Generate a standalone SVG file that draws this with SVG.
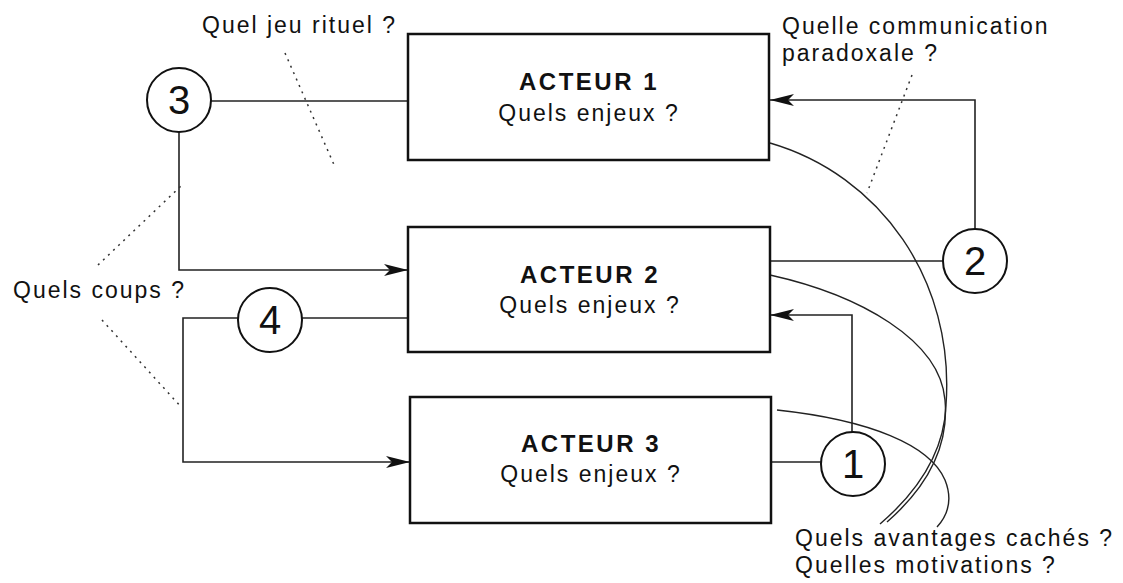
<svg xmlns="http://www.w3.org/2000/svg" width="1123" height="583" viewBox="0 0 1123 583">
<style>
.box{fill:#fff;stroke:#111;stroke-width:2.5}
.circ{fill:#fff;stroke:#111;stroke-width:2}
.ln{fill:none;stroke:#222;stroke-width:1.6}
.cv{fill:none;stroke:#222;stroke-width:1.4}
.dot{fill:none;stroke:#333;stroke-width:1.5;stroke-dasharray:2 5}
.t{font-family:"Liberation Sans",Arial,sans-serif;font-size:23px;letter-spacing:2px;fill:#111}
.b{font-size:24px;font-weight:bold;letter-spacing:2.5px;text-anchor:middle}
.m{text-anchor:middle}
.n{font-family:"Liberation Sans",Arial,sans-serif;font-size:40px;fill:#111;text-anchor:middle}
</style>
<defs>
<marker id="ah" markerUnits="userSpaceOnUse" markerWidth="24" markerHeight="12" refX="24" refY="6" orient="auto">
<path d="M0,0 L24,6 L0,12 L6,6 z" fill="#111"/>
</marker>
</defs>
<rect width="1123" height="583" fill="#fff"/>
<g id="connectors">
<path class="ln" d="M211,101 H408"/>
<path class="ln" d="M179,132 V270 H408" marker-end="url(#ah)"/>
<path class="ln" d="M943,261 H770"/>
<path class="ln" d="M975,229 V100 H770" marker-end="url(#ah)"/>
<path class="ln" d="M821,462 H770"/>
<path class="ln" d="M852,432 V315 H770" marker-end="url(#ah)"/>
<path class="ln" d="M302,318 H408"/>
<path class="ln" d="M238,318 H183 V462 H410" marker-end="url(#ah)"/>
<path class="cv" d="M770,143 C880,175 955,280 946,405 C944,460 908,500 880,524"/>
<path class="cv" d="M770,275 C860,295 940,340 945,400 C950,455 918,495 887,522"/>
<path class="cv" d="M777,410 C870,420 930,445 945,480 C953,500 948,515 937,527"/>
<path class="dot" d="M285,53 L335,167"/>
<path class="dot" d="M912,75 L867,193"/>
<path class="dot" d="M98,265 L182,185"/>
<path class="dot" d="M102,320 L182,408"/>
</g>
<g id="acteur1">
<rect class="box" x="408" y="34" width="361" height="126"/>
<text class="t b" x="589" y="90">ACTEUR 1</text>
<text class="t m" x="589" y="121">Quels enjeux ?</text>
</g>
<g id="acteur2">
<rect class="box" x="408" y="227" width="362" height="125"/>
<text class="t b" x="590" y="283">ACTEUR 2</text>
<text class="t m" x="590" y="313">Quels enjeux ?</text>
</g>
<g id="acteur3">
<rect class="box" x="410" y="397" width="361" height="126"/>
<text class="t b" x="591" y="452">ACTEUR 3</text>
<text class="t m" x="591" y="482">Quels enjeux ?</text>
</g>
<g id="c3"><circle class="circ" cx="179" cy="100" r="32"/><text class="n" x="179" y="114">3</text></g>
<g id="c2"><circle class="circ" cx="975" cy="261" r="32"/><text class="n" x="975" y="275">2</text></g>
<g id="c1"><circle class="circ" cx="853" cy="464" r="32"/><text class="n" x="853" y="478">1</text></g>
<g id="c4"><circle class="circ" cx="270" cy="320" r="32"/><text class="n" x="270" y="334">4</text></g>
<g id="labels">
<text class="t" x="202" y="33">Quel jeu rituel ?</text>
<text class="t" x="782" y="34">Quelle communication</text>
<text class="t" x="782" y="61">paradoxale ?</text>
<text class="t" x="13" y="298">Quels coups ?</text>
<text class="t" x="795" y="546">Quels avantages cachés ?</text>
<text class="t" x="795" y="573">Quelles motivations ?</text>
</g>
</svg>
